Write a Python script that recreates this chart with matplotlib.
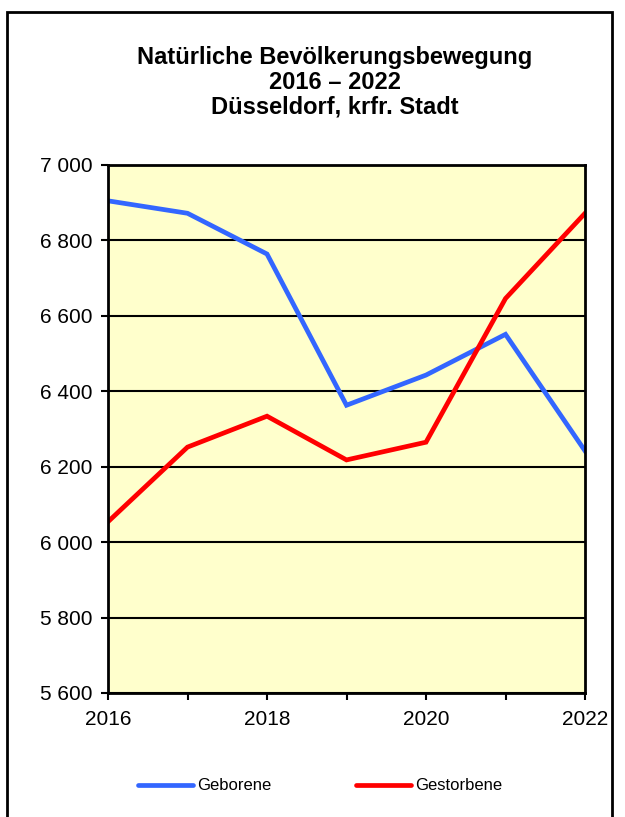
import matplotlib.pyplot as plt
from matplotlib.ticker import MultipleLocator, FuncFormatter
from matplotlib.patches import Rectangle

plt.rcParams['font.family'] = ['Liberation Sans', 'DejaVu Sans']

# data
years = [2016, 2017, 2018, 2019, 2020, 2021, 2022]
geborene = [6905, 6872, 6764, 6363, 6443, 6551, 6242]
gestorbene = [6054, 6252, 6334, 6218, 6265, 6646, 6872]

fig = plt.figure(figsize=(6.25, 8.17), dpi=100)
ax = fig.add_axes([108/625, 1-693/817, (585-108)/625, (693-165)/817])

# frame around the whole chart (bottom edge falls outside the picture)
fig.patches.append(Rectangle((7/625, -0.05), (612-7)/625, 1.05 - 12/817,
                             transform=fig.transFigure, fill=False,
                             edgecolor='black', linewidth=2))

fig.text(0.536, 1-46/817, 'Natürliche Bevölkerungsbewegung\n2016 – 2022\nDüsseldorf, krfr. Stadt',
         ha='center', va='top', fontsize=17, fontweight='bold', linespacing=1.1)

ax.set_facecolor('#FFFFCC')
ax.plot(years, geborene, color='#3366FF', linewidth=3.4, label='Geborene', solid_joinstyle='miter')
ax.plot(years, gestorbene, color='#FF0000', linewidth=3.4, label='Gestorbene', solid_joinstyle='miter')

ax.set_xlim(2016, 2022)
ax.set_ylim(5600, 7000)
ax.yaxis.set_major_locator(MultipleLocator(200))
ax.yaxis.set_major_formatter(FuncFormatter(lambda v, p: f'{int(v):,}'.replace(',', ' ')))
ax.xaxis.set_major_locator(MultipleLocator(1))
ax.xaxis.set_major_formatter(FuncFormatter(lambda v, p: f'{int(v)}' if int(v) % 2 == 0 else ''))
ax.grid(axis='y', color='black', linewidth=1.5)
ax.set_axisbelow(True)

for s in ax.spines.values():
    s.set_linewidth(2)
ax.tick_params(axis='both', direction='out', length=5, width=1.5, labelsize=15)
ax.tick_params(axis='x', pad=7)
ax.tick_params(axis='y', pad=6)

leg = fig.legend(loc='center', bbox_to_anchor=(0.512, 1-786/817), ncol=2, frameon=False,
                 fontsize=12, handlelength=3.3, handletextpad=0.25, columnspacing=5.1)
for l in leg.get_lines():
    l.set_solid_capstyle('round')

fig.savefig('out.png', dpi=100)
